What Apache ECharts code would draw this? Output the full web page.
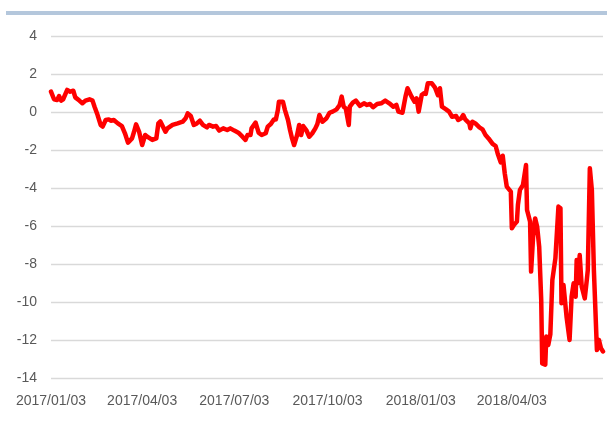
<!DOCTYPE html>
<html>
<head>
<meta charset="utf-8">
<script src="https://cdn.jsdelivr.net/npm/echarts@6/dist/echarts.min.js"></script>
<style>
  html, body { margin: 0; padding: 0; background: #fff; }
  #main { width: 607px; height: 427px; }
</style>
</head>
<body>
<div id="main"></div>
<script>
var dates = [
  '2017-01-03','2017-01-06','2017-01-09','2017-01-11','2017-01-13','2017-01-15','2017-01-19','2017-01-22',
  '2017-01-25','2017-01-27','2017-01-31','2017-02-03','2017-02-06','2017-02-10','2017-02-13','2017-02-15',
  '2017-02-18','2017-02-21','2017-02-23','2017-02-26','2017-03-01','2017-03-03','2017-03-06','2017-03-10',
  '2017-03-14','2017-03-17','2017-03-20','2017-03-24','2017-03-26','2017-03-28','2017-03-31','2017-04-03',
  '2017-04-06','2017-04-08','2017-04-13','2017-04-17','2017-04-19','2017-04-21','2017-04-26','2017-04-28',
  '2017-05-03','2017-05-08','2017-05-13','2017-05-16','2017-05-18','2017-05-21','2017-05-24','2017-05-27',
  '2017-05-30','2017-06-02','2017-06-06','2017-06-08','2017-06-12','2017-06-15','2017-06-18','2017-06-22',
  '2017-06-26','2017-06-29','2017-07-03','2017-07-07','2017-07-11','2017-07-14','2017-07-16','2017-07-19',
  '2017-07-20','2017-07-24','2017-07-27','2017-07-30','2017-08-03','2017-08-05','2017-08-08','2017-08-11',
  '2017-08-13','2017-08-15','2017-08-16','2017-08-20','2017-08-22','2017-08-25','2017-08-27','2017-08-29',
  '2017-08-31','2017-09-03','2017-09-05','2017-09-07','2017-09-09','2017-09-12','2017-09-15','2017-09-18',
  '2017-09-21','2017-09-23','2017-09-25','2017-09-28','2017-10-02','2017-10-05','2017-10-08','2017-10-12',
  '2017-10-15','2017-10-17','2017-10-19','2017-10-21','2017-10-24','2017-10-25','2017-10-28','2017-10-31',
  '2017-11-04','2017-11-08','2017-11-11','2017-11-14','2017-11-17','2017-11-21','2017-11-25','2017-11-29',
  '2017-12-03','2017-12-07','2017-12-10','2017-12-12','2017-12-16','2017-12-19','2017-12-21','2017-12-25',
  '2017-12-28','2017-12-30','2018-01-01','2018-01-04','2018-01-06','2018-01-08','2018-01-10','2018-01-14',
  '2018-01-17','2018-01-20','2018-01-22','2018-01-24','2018-01-28','2018-01-31','2018-02-03','2018-02-07',
  '2018-02-09','2018-02-12','2018-02-14','2018-02-16','2018-02-20','2018-02-21','2018-02-23','2018-02-26',
  '2018-03-02','2018-03-05','2018-03-08','2018-03-11','2018-03-15','2018-03-18','2018-03-20','2018-03-23',
  '2018-03-25','2018-03-27','2018-03-29','2018-04-02','2018-04-03','2018-04-05','2018-04-08','2018-04-09',
  '2018-04-11','2018-04-14','2018-04-17','2018-04-18','2018-04-21','2018-04-22','2018-04-24','2018-04-26',
  '2018-04-28','2018-04-30','2018-05-02','2018-05-03','2018-05-06','2018-05-07','2018-05-09','2018-05-11',
  '2018-05-13','2018-05-16','2018-05-19','2018-05-21','2018-05-22','2018-05-24','2018-05-27','2018-05-30',
  '2018-06-01','2018-06-03','2018-06-05','2018-06-06','2018-06-07','2018-06-09','2018-06-11','2018-06-14',
  '2018-06-16','2018-06-17','2018-06-19','2018-06-21','2018-06-23','2018-06-26','2018-06-28','2018-06-30',
  '2018-07-02'
];

var values = [
  1.07, 0.67, 0.63, 0.84, 0.60, 0.67, 1.16, 1.07,
  1.12, 0.77, 0.60, 0.46, 0.60, 0.67, 0.60, 0.28,
  -0.16, -0.68, -0.77, -0.42, -0.39, -0.46, -0.42, -0.60,
  -0.74, -1.12, -1.61, -1.39, -1.04, -0.65, -1.04, -1.74,
  -1.21, -1.30, -1.47, -1.39, -0.60, -0.50, -1.04, -0.86,
  -0.68, -0.60, -0.51, -0.33, -0.07, -0.21, -0.68, -0.60,
  -0.46, -0.68, -0.81, -0.68, -0.77, -0.74, -0.98, -0.86,
  -0.95, -0.86, -0.98, -1.09, -1.30, -1.47, -1.21, -1.21,
  -0.86, -0.56, -1.09, -1.21, -1.12, -0.77, -0.63, -0.39,
  -0.39, 0.10, 0.54, 0.54, 0.10, -0.42, -0.95, -1.39,
  -1.74, -1.21, -0.68, -1.21, -0.74, -0.95, -1.30, -1.12,
  -0.86, -0.63, -0.16, -0.51, -0.33, -0.04, 0.02, 0.14,
  0.37, 0.81, 0.28, 0.19, -0.68, 0.28, 0.49, 0.60,
  0.32, 0.46, 0.37, 0.42, 0.25, 0.42, 0.46, 0.60,
  0.46, 0.28, 0.37, 0.02, -0.04, 0.81, 1.25, 0.81,
  0.54, 0.72, 0.02, 0.89, 0.98, 0.95, 1.51, 1.51,
  1.30, 0.89, 1.25, 0.28, 0.14, 0.02, -0.25, -0.21,
  -0.42, -0.33, -0.16, -0.39, -0.60, -0.86, -0.51, -0.60,
  -0.81, -0.91, -1.21, -1.39, -1.68, -1.79, -2.18, -2.65,
  -2.30, -3.23, -3.93, -4.19, -6.12, -5.95, -5.77, -4.89,
  -4.10, -3.84, -2.79, -5.16, -5.77, -8.40, -6.56, -5.60,
  -6.04, -7.09, -9.89, -13.23, -13.30, -11.82, -12.26, -11.70,
  -8.84, -7.70, -4.98, -5.07, -10.07, -9.10, -10.77, -12.00,
  -9.72, -9.02, -9.72, -7.79, -9.02, -7.53, -9.19, -9.81,
  -8.84, -8.32, -2.96, -4.10, -8.32, -12.53, -12.00, -12.44,
  -12.60
];

var tickDates = ['2017-01-03', '2017-04-03', '2017-07-03', '2017-10-03', '2018-01-03', '2018-04-03'];

function toTime(s) {
  var p = s.split('-');
  return new Date(+p[0], +p[1] - 1, +p[2]).getTime();
}
function pad(n) { return n < 10 ? '0' + n : '' + n; }

var seriesData = dates.map(function (d, i) { return [toTime(d), values[i]]; });

var myChart = echarts.init(document.getElementById('main'));

myChart.setOption({
  animation: false,
  backgroundColor: '#ffffff',
  graphic: [{
    type: 'rect',
    left: 6, top: 11,
    shape: { width: 601, height: 4 },
    style: { fill: '#b4c7dc' },
    silent: true
  }],
  grid: { left: 51, right: 4, top: 36, bottom: 49 },
  xAxis: {
    type: 'value',
    min: toTime('2017-01-03'),
    max: toTime('2018-07-02'),
    axisLine: { show: false },
    axisTick: { show: false },
    splitLine: { show: false },
    axisLabel: {
      customValues: tickDates.map(toTime),
      color: '#595959',
      fontSize: 14,
      fontFamily: 'Liberation Sans',
      margin: 16,
      showMinLabel: true,
      showMaxLabel: true,
      hideOverlap: false,
      formatter: function (v) {
        var d = new Date(v);
        return d.getFullYear() + '/' + pad(d.getMonth() + 1) + '/' + pad(d.getDate());
      }
    }
  },
  yAxis: {
    type: 'value',
    min: -14,
    max: 4,
    interval: 2,
    axisLine: { show: false },
    axisTick: { show: false },
    splitLine: { lineStyle: { color: '#d9d9d9', width: 1.3 } },
    axisLabel: {
      color: '#595959',
      fontSize: 14,
      fontFamily: 'Liberation Sans',
      margin: 14
    }
  },
  series: [{
    type: 'line',
    data: seriesData,
    showSymbol: false,
    symbol: 'none',
    lineStyle: { color: '#ff0000', width: 4.5, join: 'round', cap: 'round' }
  }]
});

window.addEventListener('resize', function () { myChart.resize(); });
</script>
</body>
</html>
